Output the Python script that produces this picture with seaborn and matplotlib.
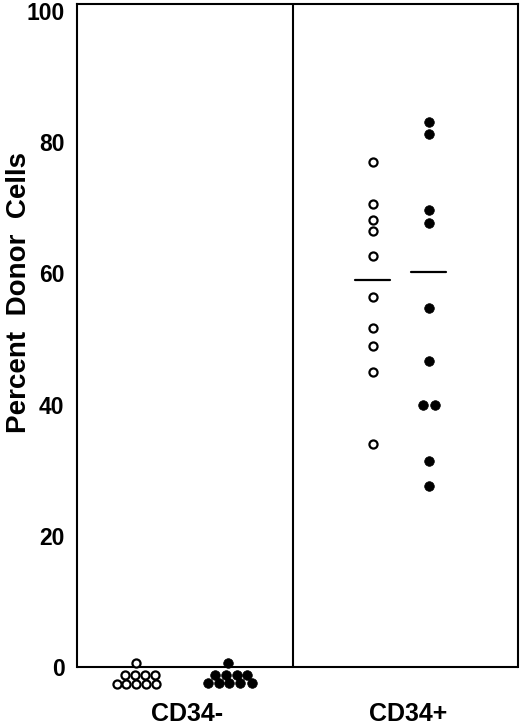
import numpy as np
import pandas as pd
import matplotlib
matplotlib.use("Agg")
import matplotlib.pyplot as plt
import seaborn as sns

# ---------------- data ----------------
groups = ["CD34-", "CD34+"]

# CD34- : open and filled circles (stacked around 0)
cd34neg_open = [0.6, -1.2, -1.2, -1.2, -1.2, -2.6, -2.6, -2.6, -2.6, -2.6]
cd34neg_open_jit = [0.0, -0.050, -0.005, 0.040, 0.085, -0.088, -0.045, 0.0, 0.045, 0.090]
cd34neg_filled = [0.6, -1.2, -1.2, -1.2, -1.2, -2.5, -2.5, -2.5, -2.5, -2.5]
cd34neg_filled_jit = [-0.008, -0.068, -0.020, 0.030, 0.078, -0.098, -0.050, -0.005, 0.045, 0.101]

# CD34+ : open and filled circles
cd34pos_open = [77.0, 70.6, 68.1, 66.5, 62.7, 56.4, 51.6, 48.9, 45.0, 34.0]
cd34pos_open_jit = [0.0] * 10
cd34pos_filled = [83.1, 81.2, 69.7, 67.7, 54.7, 46.6, 39.9, 39.9, 31.4, 27.6]
cd34pos_filled_jit = [0, 0, 0, 0, 0, 0, -0.028, 0.028, 0, 0]

# horizontal bars (group summary) in CD34+
cd34pos_open_bar = 58.9
cd34pos_filled_bar = 60.2

yticks = [0, 20, 40, 60, 80, 100]

# ---------------- layout ----------------
col_off = {("CD34-", "open"): -0.232, ("CD34-", "filled"): 0.194,
           ("CD34+", "open"): -0.158, ("CD34+", "filled"): 0.096}

rows = []
def add(group, kind, vals, jit):
    gi = groups.index(group)
    for v, j in zip(vals, jit):
        rows.append(dict(group=group, kind=kind, value=v,
                         x=gi + col_off[(group, kind)] + j))

add("CD34-", "open", cd34neg_open, cd34neg_open_jit)
add("CD34-", "filled", cd34neg_filled, cd34neg_filled_jit)
add("CD34+", "open", cd34pos_open, cd34pos_open_jit)
add("CD34+", "filled", cd34pos_filled, cd34pos_filled_jit)
df = pd.DataFrame(rows)

sns.set_style("white")
plt.rcParams["font.family"] = ["Liberation Sans", "DejaVu Sans"]
plt.rcParams["text.color"] = "black"
plt.rcParams["axes.labelcolor"] = "black"
plt.rcParams["xtick.color"] = "black"
plt.rcParams["ytick.color"] = "black"

fig = plt.figure(figsize=(5.2, 7.27), dpi=100)
ax = fig.add_axes([0.148, 0.0464, 0.848, 0.9478])

ylo, yhi = -4.0, 101.0
ax.set_xlim(-0.5, 1.5)
ax.set_ylim(ylo, yhi)

sns.scatterplot(data=df[df.kind == "open"], x="x", y="value", ax=ax,
                marker="o", s=34, color="white", edgecolor="black",
                linewidth=1.6, zorder=3, legend=False)
sns.scatterplot(data=df[df.kind == "filled"], x="x", y="value", ax=ax,
                marker="o", s=48, color="black", edgecolor="black",
                linewidth=0.5, zorder=3, legend=False)

# summary bars
gi = groups.index("CD34+")
for kind, val in (("open", cd34pos_open_bar), ("filled", cd34pos_filled_bar)):
    c = gi + col_off[("CD34+", kind)]
    ax.plot([c - 0.08, c + 0.08], [val, val], color="black", lw=1.6, zorder=2)

# frame
for side in ("left", "right", "top"):
    ax.spines[side].set_linewidth(1.5)
    ax.spines[side].set_color("black")
ax.spines["left"].set_bounds(0, yhi)
ax.spines["right"].set_bounds(0, yhi)
ax.spines["bottom"].set_visible(False)
ax.axhline(0, color="black", lw=1.5, zorder=1)
ax.plot([0.48, 0.48], [0, yhi], color="black", lw=1.5, zorder=1)

ax.set_yticks(yticks)
ax.set_yticklabels([str(t) for t in yticks], fontsize=16.5, fontweight="bold",
                   color="black")
ax.set_xticks(range(len(groups)))
ax.set_xticklabels(groups, fontsize=18, fontweight="bold", color="black")
ax.tick_params(axis="both", length=0)
ax.tick_params(axis="y", pad=9)
ax.tick_params(axis="x", pad=6)

ax.set_xlabel("")
ax.set_ylabel("Percent  Donor  Cells", fontsize=20, fontweight="bold",
              color="black")
ax.yaxis.set_label_coords(-0.102, 0.582)

fig.savefig("out.png", dpi=100)
